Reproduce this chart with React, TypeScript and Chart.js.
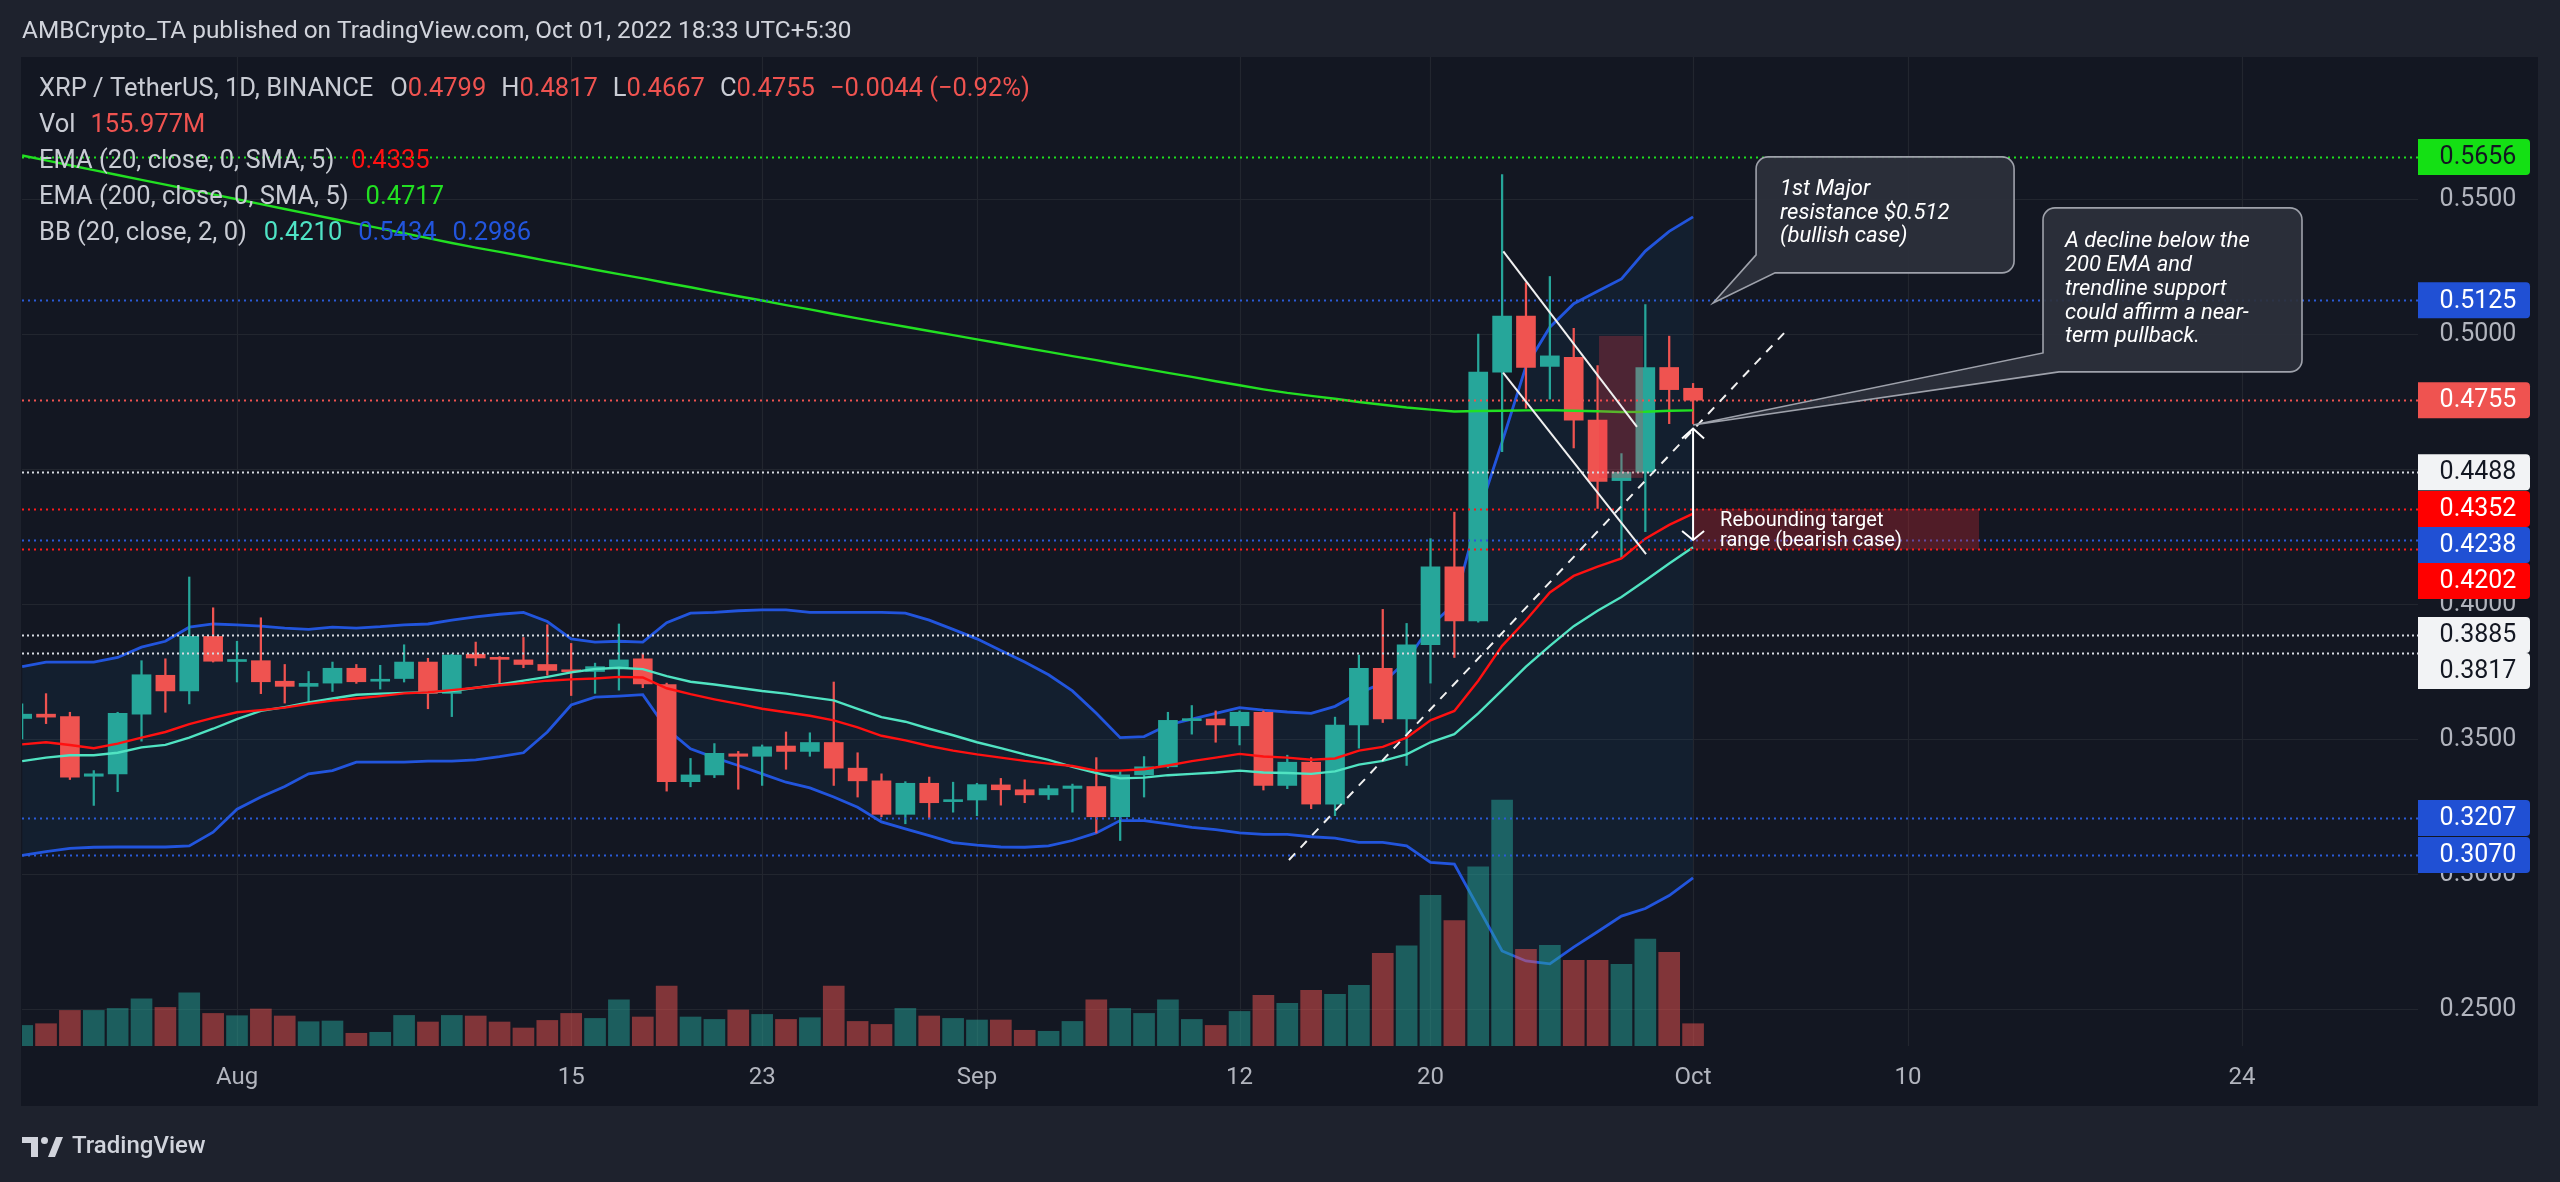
import React, { useEffect, useRef } from 'react';
import { Chart, registerables } from 'chart.js';

Chart.register(...registerables);

// ---------------- DATA ----------------
const dates = [
  '07-23','07-24','07-25','07-26','07-27','07-28','07-29','07-30','07-31',
  '08-01','08-02','08-03','08-04','08-05','08-06','08-07','08-08','08-09','08-10',
  '08-11','08-12','08-13','08-14','08-15','08-16','08-17','08-18','08-19','08-20',
  '08-21','08-22','08-23','08-24','08-25','08-26','08-27','08-28','08-29','08-30','08-31',
  '09-01','09-02','09-03','09-04','09-05','09-06','09-07','09-08','09-09','09-10',
  '09-11','09-12','09-13','09-14','09-15','09-16','09-17','09-18','09-19','09-20',
  '09-21','09-22','09-23','09-24','09-25','09-26','09-27','09-28','09-29','09-30','10-01',
];

const opens = [
  0.3576,0.3592,0.3583,0.3362,0.3371,0.3592,0.3736,0.3678,0.3880,
  0.3787,0.3790,0.3714,0.3695,0.3707,0.3762,0.3714,0.3724,0.3785,0.3669,
  0.3814,0.3802,0.3793,0.3776,0.3756,0.3750,0.3768,0.3797,0.3702,0.3342,
  0.3367,0.3445,0.3436,0.3474,0.3454,0.3487,0.3392,0.3345,0.3221,0.3336,0.3268,
  0.3274,0.3330,0.3312,0.3293,0.3317,0.3324,0.3212,0.3367,0.3397,0.3568,
  0.3574,0.3549,0.3599,0.3328,0.3414,0.3259,0.3552,0.3762,0.3574,0.3849,
  0.4138,0.3937,0.4859,0.5066,0.4880,0.4914,0.4681,0.4457,0.4488,0.4876,0.4799,
];
const highs = [
  0.3630,0.3668,0.3599,0.3383,0.3599,0.3790,0.3797,0.4100,0.3986,
  0.3862,0.3949,0.3776,0.3750,0.3785,0.3776,0.3773,0.3849,0.3799,0.3814,
  0.3859,0.3805,0.3876,0.3923,0.3854,0.3781,0.3926,0.3816,0.3707,0.3428,
  0.3483,0.3454,0.3478,0.3526,0.3523,0.3711,0.3449,0.3371,0.3342,0.3359,0.3340,
  0.3336,0.3354,0.3349,0.3328,0.3333,0.3431,0.3380,0.3435,0.3599,0.3624,
  0.3604,0.3604,0.3604,0.3440,0.3431,0.3581,0.3811,0.3980,0.3928,0.4242,
  0.4340,0.5000,0.5590,0.5190,0.5213,0.5021,0.4883,0.4557,0.5109,0.4992,0.4817,
];
const lows = [
  0.3500,0.3557,0.3350,0.3254,0.3305,0.3492,0.3599,0.3630,0.3785,
  0.3711,0.3668,0.3633,0.3638,0.3676,0.3706,0.3685,0.3711,0.3612,0.3583,
  0.3771,0.3699,0.3764,0.3736,0.3661,0.3669,0.3681,0.3690,0.3307,0.3323,
  0.3357,0.3314,0.3328,0.3388,0.3436,0.3328,0.3285,0.3212,0.3186,0.3204,0.3229,
  0.3216,0.3255,0.3264,0.3276,0.3229,0.3152,0.3124,0.3285,0.3393,0.3518,
  0.3488,0.3478,0.3311,0.3316,0.3242,0.3216,0.3466,0.3561,0.3402,0.3707,
  0.3802,0.3933,0.4564,0.4725,0.4759,0.4578,0.4354,0.4168,0.4268,0.4668,0.4667,
];
const closes = [
  0.3592,0.3581,0.3359,0.3371,0.3595,0.3738,0.3678,0.3880,0.3788,
  0.3792,0.3712,0.3695,0.3706,0.3762,0.3712,0.3719,0.3785,0.3669,0.3811,
  0.3800,0.3795,0.3776,0.3754,0.3749,0.3768,0.3793,0.3704,0.3342,0.3367,
  0.3447,0.3436,0.3471,0.3454,0.3487,0.3392,0.3345,0.3221,0.3336,0.3264,0.3274,
  0.3331,0.3312,0.3293,0.3316,0.3326,0.3212,0.3367,0.3397,0.3569,0.3574,
  0.3552,0.3599,0.3328,0.3414,0.3259,0.3552,0.3762,0.3574,0.3849,0.4138,
  0.3937,0.4859,0.5066,0.4876,0.4919,0.4681,0.4454,0.4488,0.4876,0.4794,0.4755,
];
// volume in millions
const volumes = [
  144,156,249,249,263,331,270,373,228,
  212,259,210,170,175,89,96,214,168,214,
  210,168,126,179,228,193,324,203,419,203,
  186,252,221,186,198,419,172,151,263,210,193,
  182,182,110,103,172,324,263,228,324,186,
  144,242,354,298,389,361,424,648,701,1055,
  878,1254,1722,676,704,599,599,571,748,655,156,
];
const ema20 = [
  0.3480,0.3488,0.3478,0.3466,0.3483,0.3505,0.3526,0.3555,0.3578,
  0.3599,0.3607,0.3616,0.3630,0.3642,0.3650,0.3659,0.3669,0.3673,0.3681,
  0.3690,0.3699,0.3707,0.3716,0.3721,0.3724,0.3730,0.3728,0.3688,0.3666,
  0.3647,0.3630,0.3612,0.3599,0.3586,0.3569,0.3543,0.3512,0.3495,0.3474,0.3457,
  0.3443,0.3431,0.3419,0.3409,0.3400,0.3383,0.3383,0.3388,0.3402,0.3418,
  0.3431,0.3445,0.3435,0.3431,0.3423,0.3428,0.3457,0.3471,0.3505,0.3569,
  0.3604,0.3716,0.3845,0.3940,0.4043,0.4104,0.4138,0.4169,0.4242,0.4293,0.4335,
];
const ema200 = [
  0.5661,0.5643,0.5625,0.5607,0.5589,0.5571,0.5553,0.5535,0.5517,
  0.5499,0.5481,0.5463,0.5445,0.5427,0.5409,0.5391,0.5373,0.5355,0.5337,
  0.5320,0.5304,0.5288,0.5271,0.5255,0.5238,0.5222,0.5206,0.5189,0.5173,
  0.5156,0.5140,0.5124,0.5107,0.5091,0.5074,0.5058,0.5042,0.5027,0.5011,0.4996,
  0.4980,0.4965,0.4949,0.4934,0.4918,0.4903,0.4887,0.4872,0.4856,0.4841,
  0.4825,0.4810,0.4795,0.4782,0.4771,0.4760,0.4748,0.4738,0.4728,0.4720,
  0.4713,0.4715,0.4716,0.4717,0.4718,0.4716,0.4714,0.4711,0.4712,0.4716,0.4717,
];
const bbBasis = [
  0.3418,0.3431,0.3440,0.3440,0.3449,0.3469,0.3478,0.3505,0.3538,
  0.3574,0.3604,0.3618,0.3635,0.3650,0.3664,0.3668,0.3671,0.3673,0.3678,
  0.3690,0.3702,0.3716,0.3730,0.3747,0.3759,0.3764,0.3759,0.3733,0.3712,
  0.3702,0.3690,0.3678,0.3668,0.3655,0.3643,0.3612,0.3581,0.3564,0.3538,0.3514,
  0.3488,0.3466,0.3443,0.3423,0.3397,0.3374,0.3354,0.3357,0.3366,0.3371,
  0.3376,0.3383,0.3376,0.3374,0.3371,0.3380,0.3405,0.3419,0.3443,0.3488,
  0.3518,0.3595,0.3681,0.3768,0.3845,0.3918,0.3975,0.4026,0.4087,0.4150,0.4210,
];
const bbUpper = [
  0.3768,0.3785,0.3785,0.3785,0.3802,0.3840,0.3862,0.3914,0.3926,
  0.3923,0.3918,0.3911,0.3906,0.3914,0.3911,0.3916,0.3923,0.3926,0.3940,
  0.3952,0.3962,0.3969,0.3935,0.3871,0.3859,0.3862,0.3859,0.3931,0.3966,
  0.3969,0.3975,0.3978,0.3978,0.3969,0.3969,0.3969,0.3969,0.3966,0.3940,0.3906,
  0.3871,0.3828,0.3785,0.3738,0.3678,0.3595,0.3505,0.3509,0.3552,0.3574,
  0.3595,0.3616,0.3607,0.3600,0.3595,0.3621,0.3670,0.3707,0.3790,0.3920,
  0.4000,0.4330,0.4600,0.4880,0.5025,0.5112,0.5158,0.5204,0.5307,0.5380,0.5434,
];
const bbLower = [
  0.3069,0.3083,0.3095,0.3099,0.3100,0.3100,0.3100,0.3104,0.3155,
  0.3240,0.3285,0.3324,0.3371,0.3383,0.3414,0.3414,0.3414,0.3418,0.3418,
  0.3423,0.3435,0.3449,0.3526,0.3626,0.3655,0.3659,0.3664,0.3538,0.3464,
  0.3431,0.3402,0.3371,0.3340,0.3319,0.3285,0.3247,0.3193,0.3167,0.3142,0.3116,
  0.3107,0.3100,0.3099,0.3104,0.3124,0.3152,0.3198,0.3198,0.3186,0.3173,
  0.3164,0.3152,0.3147,0.3147,0.3138,0.3133,0.3117,0.3117,0.3104,0.3043,
  0.3037,0.2876,0.2715,0.2678,0.2667,0.2729,0.2786,0.2844,0.2872,0.2920,0.2986,
];

const dateTicks = ['08-01','08-15','08-23','09-01','09-12','09-20','10-01','10-10','10-24'];
const dateTickLabels = ['Aug','15','23','Sep','12','20','Oct','10','24'];
const priceTicks = [0.55, 0.5, 0.45, 0.4, 0.35, 0.3, 0.25];

const levelPrices = [0.5656, 0.5125, 0.4755, 0.4488, 0.4352, 0.4238, 0.4202, 0.3885, 0.3817, 0.3207, 0.3070];
const levelKinds = ['green','blue','last','white','red','blue','red','white','white','blue','blue'];

// drawings (day offset from Aug 1, price)
const trendline = [[44.07, 0.3052], [64.85, 0.5007]];
const wedgeTop = [[53.05, 0.5306], [58.65, 0.4656]];
const wedgeBottom = [[53.04, 0.4857], [59.03, 0.4185]];
const pinkZone = [[57.06, 0.4993], [58.9, 0.4467]];
const reboundZone = [[61, 0.4352], [72.98, 0.4202]];
const arrowSpan = [[61, 0.4650], [61, 0.4237]];
const callout1Lines = ['1st Major', 'resistance $0.512', '(bullish case)'];
const callout2Lines = ['A decline below the', '200 EMA and', 'trendline support', 'could affirm a near-', 'term pullback.'];
const reboundLines = ['Rebounding target', 'range (bearish case)'];
const callout1Anchor = [63.64, 0.5656];
const callout1Tip = [61.84, 0.5115];
const callout2Anchor = [75.66, 0.5467];
const callout2Tip = [61.0, 0.4663];

const headerText = 'AMBCrypto_TA published on TradingView.com, Oct 01, 2022 18:33 UTC+5:30';

// ---------------- STYLE / LAYOUT ----------------
const W = 2560, H = 1182;
const AREA = { left: 22, top: 57, right: 2418, bottom: 1046 };
const X_MIN = -9.007, X_MAX = 91.37;
const Y_MIN = 0.236296, Y_MAX = 0.602593;
const VOL_MAX = 6923;
const FONT = 'Roboto, "Noto Sans", "DejaVu Sans", sans-serif';
const TEAL = '#26a69a', RED = '#ef5350';
const GRAY = '#b2b5be', LEG = '#c9ccd4';

const LEVEL_STYLE: any = {
  green: { line: '#1ee01e', bg: '#14e014', text: '#131722' },
  blue: { line: '#2a5bd8', bg: '#2050d4', text: '#ffffff' },
  last: { line: '#ef5350', bg: '#ef5350', text: '#ffffff' },
  white: { line: '#d8dbe2', bg: '#f2f3f5', text: '#131722' },
  red: { line: '#ff1a1a', bg: '#ff0000', text: '#ffffff' },
};

const legendRows: any[] = [
  [['XRP / TetherUS, 1D, BINANCE', LEG, 0], ['O', LEG, 17], ['0.4799', RED, 0], ['H', LEG, 15], ['0.4817', RED, 0],
   ['L', LEG, 15], ['0.4667', RED, 0], ['C', LEG, 15], ['0.4755', RED, 0], ['\u22120.0044 (\u22120.92%)', RED, 15]],
  [['Vol', LEG, 0], ['155.977M', RED, 15]],
  [['EMA (20, close, 0, SMA, 5)', LEG, 0], ['0.4335', '#ff1111', 17]],
  [['EMA (200, close, 0, SMA, 5)', LEG, 0], ['0.4717', '#22e022', 17]],
  [['BB (20, close, 2, 0)', LEG, 0], ['0.4210', '#4fe3c5', 17], ['0.5434', '#2255dd', 16], ['0.2986', '#2255dd', 16]],
];

const dayOf = (md: string) => {
  const [m, d] = md.split('-').map(Number);
  return (Date.UTC(2022, m - 1, d) - Date.UTC(2022, 7, 1)) / 86400000;
};

function seg(ctx: any, x1: number, y1: number, x2: number, y2: number) {
  ctx.beginPath();
  ctx.moveTo(x1, y1);
  ctx.lineTo(x2, y2);
  ctx.stroke();
}

function calloutPath(ctx: any, l: number, t: number, w: number, h: number, r: number, baseAy: number, baseBx: number, tx: number, ty: number) {
  const rgt = l + w, btm = t + h;
  ctx.beginPath();
  ctx.moveTo(l + baseBx, btm);
  ctx.lineTo(rgt - r, btm);
  ctx.arcTo(rgt, btm, rgt, btm - r, r);
  ctx.lineTo(rgt, t + r);
  ctx.arcTo(rgt, t, rgt - r, t, r);
  ctx.lineTo(l + r, t);
  ctx.arcTo(l, t, l, t + r, r);
  ctx.lineTo(l, t + baseAy);
  ctx.lineTo(tx, ty);
  ctx.closePath();
}

const tvPlugin = {
  id: 'tvDecor',
  beforeDraw(chart: any) {
    const ctx = chart.ctx;
    const xs = chart.scales.x, ys = chart.scales.y;
    ctx.save();
    ctx.fillStyle = '#1e222d';
    ctx.fillRect(0, 0, W, H);
    ctx.fillStyle = '#131722';
    ctx.fillRect(21, 57, 2538 - 21, 1106 - 57);
    // grid
    ctx.strokeStyle = '#22262f';
    ctx.lineWidth = 1.2;
    priceTicks.forEach((p) => {
      const y = Math.round(ys.getPixelForValue(p)) + 0.5;
      seg(ctx, AREA.left, y, AREA.right, y);
    });
    dateTicks.forEach((d) => {
      const x = Math.round(xs.getPixelForValue(dayOf(d))) + 0.5;
      seg(ctx, x, AREA.top, x, AREA.bottom);
    });
    ctx.restore();
  },
  afterDatasetsDraw(chart: any) {
    const ctx = chart.ctx;
    const xs = chart.scales.x, ys = chart.scales.y;
    const px = (d: number) => xs.getPixelForValue(d);
    const py = (p: number) => ys.getPixelForValue(p);
    ctx.save();

    // clip to pane for drawings
    ctx.save();
    ctx.beginPath();
    ctx.rect(AREA.left, AREA.top, AREA.right - AREA.left, AREA.bottom - AREA.top);
    ctx.clip();

    // dotted level lines
    levelPrices.forEach((p, i) => {
      const st = LEVEL_STYLE[levelKinds[i]];
      const y = Math.round(py(p)) + 0.5;
      ctx.strokeStyle = st.line;
      ctx.lineWidth = 2;
      ctx.setLineDash(levelKinds[i] === 'white' ? [2, 3] : [2, 4]);
      seg(ctx, AREA.left, y, AREA.right, y);
    });
    ctx.setLineDash([]);

    // zones
    ctx.fillStyle = 'rgba(242, 54, 69, 0.26)';
    ctx.fillRect(px(pinkZone[0][0]), py(pinkZone[0][1]), px(pinkZone[1][0]) - px(pinkZone[0][0]), py(pinkZone[1][1]) - py(pinkZone[0][1]));
    ctx.fillStyle = 'rgba(210, 40, 50, 0.32)';
    ctx.fillRect(px(reboundZone[0][0]), py(reboundZone[0][1]), px(reboundZone[1][0]) - px(reboundZone[0][0]), py(reboundZone[1][1]) - py(reboundZone[0][1]));

    // wedge
    ctx.strokeStyle = '#f0f0f0';
    ctx.lineWidth = 2;
    seg(ctx, px(wedgeTop[0][0]), py(wedgeTop[0][1]), px(wedgeTop[1][0]), py(wedgeTop[1][1]));
    seg(ctx, px(wedgeBottom[0][0]), py(wedgeBottom[0][1]), px(wedgeBottom[1][0]), py(wedgeBottom[1][1]));

    // dashed trendline
    ctx.setLineDash([9, 8]);
    ctx.lineWidth = 2;
    seg(ctx, px(trendline[0][0]), py(trendline[0][1]), px(trendline[1][0]), py(trendline[1][1]));
    ctx.setLineDash([]);

    // arrow
    const ax = px(arrowSpan[0][0]);
    const ay1 = py(arrowSpan[0][1]), ay2 = py(arrowSpan[1][1]);
    ctx.strokeStyle = '#ffffff';
    ctx.lineWidth = 2;
    seg(ctx, ax, ay1, ax, ay2);
    ctx.beginPath();
    ctx.moveTo(ax - 11, ay1 + 10); ctx.lineTo(ax, ay1); ctx.lineTo(ax + 11, ay1 + 10);
    ctx.stroke();
    ctx.beginPath();
    ctx.moveTo(ax - 11, ay2 - 9); ctx.lineTo(ax, ay2); ctx.lineTo(ax + 11, ay2 - 9);
    ctx.stroke();

    // rebound text
    ctx.fillStyle = '#ffffff';
    ctx.font = `20px ${FONT}`;
    ctx.textAlign = 'left';
    ctx.textBaseline = 'middle';
    const rbx = px(reboundZone[0][0]) + 27, rby = py(reboundZone[0][1]);
    reboundLines.forEach((s, i) => ctx.fillText(s, rbx, rby + 12 + i * 20));

    // callouts
    const drawCallout = (anchor: number[], tip: number[], w: number, h: number, baseAy: number, baseBx: number, lines: string[], padX: number, padY: number, lh: number) => {
      const l = px(anchor[0]), t = py(anchor[1]);
      calloutPath(ctx, l, t, w, h, 12, baseAy, baseBx, px(tip[0]), py(tip[1]));
      ctx.fillStyle = 'rgba(44, 48, 59, 0.93)';
      ctx.fill();
      ctx.strokeStyle = 'rgba(165, 169, 178, 0.95)';
      ctx.lineWidth = 1.6;
      ctx.stroke();
      ctx.fillStyle = '#ffffff';
      ctx.font = `italic 22px ${FONT}`;
      ctx.textAlign = 'left';
      ctx.textBaseline = 'middle';
      lines.forEach((s, i) => ctx.fillText(s, l + padX, t + padY + i * lh));
    };
    drawCallout(callout1Anchor, callout1Tip, 258, 116, 98, 19, callout1Lines, 24, 33, 23.5);
    drawCallout(callout2Anchor, callout2Tip, 259, 164, 145, 16, callout2Lines, 22, 34, 23.7);

    ctx.restore(); // end clip

    // price axis plain labels
    ctx.font = `25px ${FONT}`;
    ctx.textAlign = 'center';
    ctx.textBaseline = 'middle';
    ctx.fillStyle = GRAY;
    priceTicks.forEach((p) => {
      ctx.fillText(p.toFixed(4), 2478, py(p) + 1);
    });

    // level labels (stacked)
    const order = levelPrices.map((p, i) => i).sort((a, b) => py(levelPrices[a]) - py(levelPrices[b]));
    let prevBottom = -1e9;
    const LH = 36;
    order.forEach((i) => {
      const st = LEVEL_STYLE[levelKinds[i]];
      let cy = py(levelPrices[i]);
      if (cy - LH / 2 < prevBottom) cy = prevBottom + LH / 2;
      prevBottom = cy + LH / 2;
      ctx.fillStyle = st.bg;
      ctx.beginPath();
      ctx.roundRect(2418, cy - LH / 2, 112, LH, [0, 4, 4, 0]);
      ctx.fill();
      ctx.fillStyle = st.text;
      ctx.fillText(levelPrices[i].toFixed(4), 2478, cy + 1);
    });

    // time axis labels
    ctx.font = `24px ${FONT}`;
    ctx.fillStyle = GRAY;
    dateTicks.forEach((d, i) => {
      ctx.fillText(dateTickLabels[i], px(dayOf(d)), 1078);
    });

    // header
    ctx.textAlign = 'left';
    ctx.fillStyle = '#d1d4dc';
    ctx.font = `24.4px ${FONT}`;
    ctx.fillText(headerText, 22, 32);

    // legend
    ctx.font = `25.5px ${FONT}`;
    legendRows.forEach((row: any[], r: number) => {
      let x = 39;
      const y = 90 + r * 36;
      row.forEach(([s, c, gap]: any) => {
        x += gap;
        ctx.fillStyle = c;
        ctx.fillText(s, x, y);
        x += ctx.measureText(s).width;
      });
    });

    // TradingView logo
    ctx.fillStyle = '#d1d4dc';
    ctx.beginPath();
    ctx.moveTo(22, 1137); ctx.lineTo(38, 1137); ctx.lineTo(38, 1157); ctx.lineTo(31, 1157); ctx.lineTo(31, 1143); ctx.lineTo(22, 1143);
    ctx.closePath();
    ctx.fill();
    ctx.beginPath();
    ctx.arc(44.5, 1140.5, 3.5, 0, Math.PI * 2);
    ctx.fill();
    ctx.beginPath();
    ctx.moveTo(48, 1157); ctx.lineTo(56, 1137); ctx.lineTo(63, 1137); ctx.lineTo(55, 1157);
    ctx.closePath();
    ctx.fill();
    ctx.font = `500 24px ${FONT}`;
    ctx.fillText('TradingView', 72, 1147);

    ctx.restore();
  },
};

export default function App() {
  const ref = useRef<HTMLCanvasElement | null>(null);
  useEffect(() => {
    if (!ref.current) return;
    const xsDays = dates.map(dayOf);
    const up = closes.map((c, i) => c >= opens[i]);
    const pts = (arr: number[]) => arr.map((v, i) => ({ x: xsDays[i], y: v }));
    const chart = new Chart(ref.current, {
      type: 'bar',
      data: {
        datasets: [
          {
            type: 'line', label: 'BB upper', data: pts(bbUpper), yAxisID: 'y',
            borderColor: '#2255dd', borderWidth: 2.8, pointRadius: 0, fill: '+1',
            backgroundColor: 'rgba(33, 150, 243, 0.065)', order: 10,
          },
          {
            type: 'line', label: 'BB lower', data: pts(bbLower), yAxisID: 'y',
            borderColor: '#2255dd', borderWidth: 2.8, pointRadius: 0, fill: false, order: 9,
          },
          {
            type: 'bar', label: 'Volume', data: pts(volumes), yAxisID: 'yv',
            backgroundColor: up.map((u) => (u ? 'rgba(38,166,154,0.5)' : 'rgba(239,83,80,0.5)')),
            barThickness: 21, grouped: false, borderWidth: 0, order: 8,
          },
          {
            type: 'bar', label: 'Wicks', yAxisID: 'y',
            data: xsDays.map((x, i) => ({ x, y: [lows[i], highs[i]] })),
            backgroundColor: up.map((u) => (u ? TEAL : RED)),
            barThickness: 1.6, grouped: false, borderWidth: 0, order: 7,
          },
          {
            type: 'bar', label: 'Bodies', yAxisID: 'y',
            data: xsDays.map((x, i) => ({ x, y: [opens[i], closes[i]] })),
            backgroundColor: up.map((u) => (u ? TEAL : RED)),
            barThickness: 19, grouped: false, borderWidth: 0, minBarLength: 2, order: 6,
          },
          {
            type: 'line', label: 'BB basis', data: pts(bbBasis), yAxisID: 'y',
            borderColor: '#50e3c2', borderWidth: 2.4, pointRadius: 0, fill: false, order: 5,
          },
          {
            type: 'line', label: 'EMA 20', data: pts(ema20), yAxisID: 'y',
            borderColor: '#ff1111', borderWidth: 2.4, pointRadius: 0, fill: false, order: 4,
          },
          {
            type: 'line', label: 'EMA 200', data: pts(ema200), yAxisID: 'y',
            borderColor: '#22e022', borderWidth: 2.4, pointRadius: 0, fill: false, order: 3,
          },
        ] as any,
      },
      options: {
        responsive: false,
        maintainAspectRatio: false,
        animation: false,
        devicePixelRatio: 1,
        events: [],
        layout: {
          padding: { left: AREA.left, top: AREA.top, right: W - AREA.right, bottom: H - AREA.bottom },
        },
        plugins: { legend: { display: false }, tooltip: { enabled: false } },
        scales: {
          x: { type: 'linear', min: X_MIN, max: X_MAX, offset: false, display: false, grid: { display: false } },
          y: { type: 'linear', min: Y_MIN, max: Y_MAX, display: false, grid: { display: false } },
          yv: { type: 'linear', min: 0, max: VOL_MAX, display: false, grid: { display: false } },
        },
      } as any,
      plugins: [tvPlugin],
    });
    return () => chart.destroy();
  }, []);
  return (
    <div style={{ position: 'fixed', left: 0, top: 0, width: W, height: H, background: '#1e222d' }}>
      <canvas ref={ref} width={W} height={H} style={{ width: W, height: H, display: 'block' }} />
    </div>
  );
}
